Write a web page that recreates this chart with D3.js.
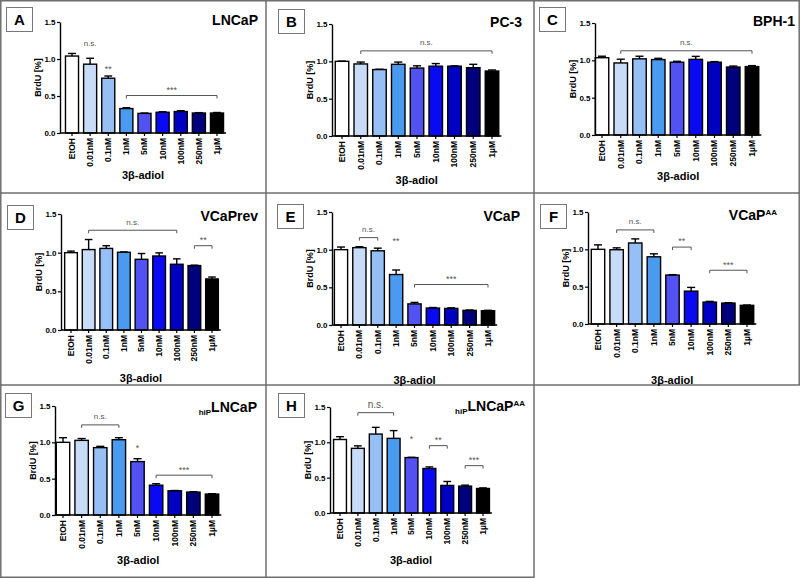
<!DOCTYPE html>
<html>
<head>
<meta charset="utf-8">
<script src="https://cdn.jsdelivr.net/npm/d3@7"></script>
<style>
  body { margin: 0; background: #fff; }
  text { font-family: Arial, "Liberation Sans", sans-serif; }
</style>
</head>
<body>
<div id="chart"></div>
<script>
// data
var categories = ["EtOH", "0.01nM", "0.1nM", "1nM", "5nM", "10nM", "100nM", "250nM", "1µM"];
var yTicks = [0.0, 0.5, 1.0, 1.5];
var panelLetters = ["A", "B", "C", "D", "E", "F", "G", "H"];

var meansA = [1.04, 0.93, 0.74, 0.33, 0.265, 0.28, 0.29, 0.27, 0.27];
var errA   = [0.035, 0.08, 0.03, 0.012, 0.005, 0.007, 0.012, 0.005, 0.007];
var meansB = [1.0, 0.965, 0.89, 0.96, 0.91, 0.935, 0.935, 0.915, 0.87];
var errB   = [0.003, 0.025, 0.004, 0.03, 0.03, 0.035, 0.004, 0.045, 0.014];
var meansC = [1.035, 0.965, 1.02, 1.01, 0.975, 1.013, 0.975, 0.91, 0.916];
var errC   = [0.02, 0.05, 0.035, 0.017, 0.012, 0.04, 0.008, 0.013, 0.013];
var meansD = [1.0, 1.04, 1.055, 1.005, 0.914, 0.957, 0.85, 0.833, 0.66];
var errD   = [0.02, 0.13, 0.035, 0.005, 0.075, 0.04, 0.07, 0.005, 0.025];
var meansE = [1.0, 1.027, 0.985, 0.67, 0.28, 0.225, 0.22, 0.194, 0.19];
var errE   = [0.035, 0.012, 0.035, 0.06, 0.02, 0.007, 0.008, 0.005, 0.005];
var meansF = [1.0, 0.995, 1.085, 0.9, 0.655, 0.44, 0.293, 0.28, 0.25];
var errF   = [0.06, 0.025, 0.055, 0.04, 0.006, 0.05, 0.01, 0.005, 0.004];
var meansG = [1.0, 1.027, 0.927, 1.036, 0.735, 0.41, 0.333, 0.315, 0.288];
var errG   = [0.064, 0.025, 0.018, 0.028, 0.04, 0.02, 0.004, 0.006, 0.005];
var meansH = [1.04, 0.915, 1.117, 1.056, 0.784, 0.63, 0.39, 0.38, 0.347];
var errH   = [0.04, 0.035, 0.095, 0.11, 0.004, 0.022, 0.056, 0.014, 0.008];

// significance marks: from / to category, level in BrdU units, label
var sigA = [["0.01nM", "0.01nM", 1.10, "n.s."], ["0.1nM", "0.1nM", 0.79, "**"], ["1nM", "1µM", 0.507, "***"]];
var sigB = [["0.01nM", "1µM", 1.14, "n.s."]];
var sigC = [["0.01nM", "1µM", 1.128, "n.s."]];
var sigD = [["0.01nM", "100nM", 1.29, "n.s."], ["250nM", "1µM", 1.09, "**"]];
var sigE = [["0.01nM", "0.1nM", 1.16, "n.s."], ["1nM", "1nM", 1.04, "**"], ["5nM", "1µM", 0.537, "***"]];
var sigF = [["0.01nM", "1nM", 1.26, "n.s."], ["5nM", "10nM", 1.03, "**"], ["100nM", "1µM", 0.72, "***"]];
var sigG = [["0.01nM", "1nM", 1.24, "n.s."], ["5nM", "5nM", 0.85, "*"], ["10nM", "1µM", 0.548, "***"]];
var sigH = [["0.01nM", "1nM", 1.42, "n.s."], ["5nM", "5nM", 0.967, "*"], ["10nM", "100nM", 0.953, "**"], ["250nM", "1µM", 0.67, "***"]];

var barColors = ["#ffffff", "#c8dcf8", "#96c0f5", "#4a9af0", "#5252f2", "#0a0af2", "#0000c2", "#00007c", "#000000"];

// titles: [main, subscript prefix, superscript suffix]
var titles = [["LNCaP", "", ""], ["PC-3", "", ""], ["BPH-1", "", ""], ["VCaPrev", "", ""],
              ["VCaP", "", ""], ["VCaP", "", "AA"], ["LNCaP", "hiP", ""], ["LNCaP", "hiP", "AA"]];

var means = [meansA, meansB, meansC, meansD, meansE, meansF, meansG, meansH];
var errs = [errA, errB, errC, errD, errE, errF, errG, errH];
var sigs = [sigA, sigB, sigC, sigD, sigE, sigF, sigG, sigH];

// layout of each panel (pixels)
var layout = [
  {ax: 60,  first: 72,  last: 217, y0: 133, y1: 22,  tx: 258, ty: 25,  bx: 6,   by: 7,   xt: 179},
  {ax: 332, first: 342, last: 492, y0: 136, y1: 24,  tx: 522, ty: 27,  bx: 278, by: 9,   xt: 184},
  {ax: 595, first: 602, last: 752, y0: 135, y1: 23,  tx: 795, ty: 26,  bx: 539, by: 7,   xt: 180},
  {ax: 61,  first: 71,  last: 212, y0: 330, y1: 214, tx: 258, ty: 221, bx: 7,   by: 205, xt: 382},
  {ax: 332, first: 341, last: 488, y0: 325, y1: 212, tx: 520, ty: 221, bx: 277, by: 204, xt: 384},
  {ax: 588, first: 598, last: 747, y0: 324, y1: 212, tx: 777, ty: 220, bx: 540, by: 204, xt: 384},
  {ax: 55,  first: 63,  last: 212, y0: 515, y1: 406, tx: 257, ty: 412, bx: 5,   by: 393, xt: 564},
  {ax: 330, first: 340, last: 483, y0: 513, y1: 407, tx: 525, ty: 411, bx: 278, by: 393, xt: 564}
];

var svg = d3.select("#chart")
  .append("svg")
  .attr("width", 800)
  .attr("height", 578);

// panel frame
var frame = svg.append("g")
  .attr("stroke", "#6e6e6e")
  .attr("stroke-width", 1.5);
[[0, 0.8, 800, 0.8], [0.8, 0, 0.8, 578], [799.2, 0, 799.2, 385], [266, 0, 266, 578],
 [534, 0, 534, 578], [0, 193, 800, 193], [0, 385, 800, 385], [0, 577.2, 534, 577.2]]
  .forEach(function(l) {
    frame.append("line").attr("x1", l[0]).attr("y1", l[1]).attr("x2", l[2]).attr("y2", l[3]);
  });

means.forEach(function(vals, i) {
  var L = layout[i];
  var step = (L.last - L.first) / (categories.length - 1);
  var g = svg.append("g");

  var x = d3.scaleBand()
    .domain(categories)
    .range([L.first - step / 2, L.last + step / 2])
    .paddingInner(0.28)
    .paddingOuter(0.14);

  var y = d3.scaleLinear()
    .domain([0, 1.5])
    .range([L.y0, L.y1]);

  var rows = categories.map(function(c, j) {
    return {cat: c, mean: vals[j], err: errs[i][j], color: barColors[j]};
  });

  // bars
  g.selectAll("rect.bar")
    .data(rows)
    .enter()
    .append("rect")
    .attr("class", "bar")
    .attr("x", d => x(d.cat))
    .attr("y", d => y(d.mean))
    .attr("width", x.bandwidth())
    .attr("height", d => y(0) - y(d.mean))
    .attr("fill", d => d.color)
    .attr("stroke", "#000")
    .attr("stroke-width", 1.4);

  // error bars (upper only)
  var eb = g.selectAll("g.err")
    .data(rows)
    .enter()
    .append("g")
    .attr("stroke", "#000")
    .attr("stroke-width", 1.4);
  eb.append("line")
    .attr("x1", d => x(d.cat) + x.bandwidth() / 2)
    .attr("x2", d => x(d.cat) + x.bandwidth() / 2)
    .attr("y1", d => y(d.mean))
    .attr("y2", d => y(d.mean + d.err));
  eb.append("line")
    .attr("x1", d => x(d.cat) + x.bandwidth() * 0.2)
    .attr("x2", d => x(d.cat) + x.bandwidth() * 0.8)
    .attr("y1", d => y(d.mean + d.err))
    .attr("y2", d => y(d.mean + d.err));

  // y axis
  var yAxis = g.append("g")
    .attr("transform", "translate(" + L.ax + ",0)")
    .call(d3.axisLeft(y).tickValues(yTicks).tickFormat(d3.format(".1f")).tickSize(3).tickSizeOuter(0));
  yAxis.selectAll("text")
    .style("font-size", "8px")
    .style("font-weight", "bold")
    .attr("x", -4.5);

  // x axis
  var xAxis = g.append("g")
    .attr("transform", "translate(0," + L.y0 + ")")
    .call(d3.axisBottom(x).tickSize(3).tickSizeOuter(0));
  xAxis.select(".domain")
    .attr("d", "M" + L.ax + ",0H" + (L.last + step / 2));
  xAxis.selectAll("text")
    .attr("transform", "rotate(-90)")
    .attr("text-anchor", "end")
    .attr("x", -5)
    .attr("y", 0)
    .attr("dy", "0.35em")
    .style("font-size", "8.5px")
    .style("font-weight", "bold");

  [yAxis, xAxis].forEach(function(a) {
    a.select(".domain").attr("stroke-width", 1.4);
    a.selectAll(".tick line").attr("stroke-width", 1.2);
  });

  // axis titles
  g.append("text")
    .attr("text-anchor", "middle")
    .attr("transform", "rotate(-90)")
    .attr("x", -(L.y0 + L.y1) / 2)
    .attr("y", L.ax - 19)
    .style("font-size", "9px")
    .style("font-weight", "bold")
    .text("BrdU [%]");

  g.append("text")
    .attr("text-anchor", "middle")
    .attr("x", (L.ax + L.last + step / 2) / 2)
    .attr("y", L.xt)
    .style("font-size", "11px")
    .style("font-weight", "bold")
    .text("3β-adiol");

  // significance marks
  sigs[i].forEach(function(s) {
    var x1 = x(s[0]) + x.bandwidth() / 2,
        x2 = x(s[1]) + x.bandwidth() / 2,
        yy = y(s[2]);
    if (s[0] !== s[1]) {
      g.append("path")
        .attr("d", "M" + x1 + "," + (yy + 3) + "V" + yy + "H" + x2 + "V" + (yy + 3))
        .attr("fill", "none")
        .attr("stroke", "#555")
        .attr("stroke-width", 1);
    }
    var ns = s[3] === "n.s.";
    g.append("text")
      .attr("text-anchor", "middle")
      .attr("x", (x1 + x2) / 2)
      .attr("y", yy - 8)
      .attr("dy", ns ? "0.3em" : "0.6em")
      .style("font-size", ns ? (i === 7 ? "10px" : "8px") : "9px")
      .style("fill", "#555")
      .text(s[3]);
  });

  // panel title
  var t = titles[i];
  var tt = g.append("text")
    .attr("text-anchor", "end")
    .attr("x", L.tx)
    .attr("y", L.ty)
    .style("font-size", "14px")
    .style("font-weight", "bold");
  if (t[1]) {
    tt.append("tspan").attr("dy", 3).style("font-size", "8px").text(t[1]);
    tt.append("tspan").attr("dy", -3).text(t[0]);
  } else {
    tt.append("tspan").text(t[0]);
  }
  if (t[2]) {
    tt.append("tspan").attr("dy", -5).style("font-size", "8px").text(t[2]);
  }

  // panel letter box
  g.append("rect")
    .attr("x", L.bx + 0.5)
    .attr("y", L.by + 0.5)
    .attr("width", 26)
    .attr("height", 24)
    .attr("fill", "#fff")
    .attr("stroke", "#777")
    .attr("stroke-width", 1);
  g.append("text")
    .attr("text-anchor", "middle")
    .attr("x", L.bx + 13.5)
    .attr("y", L.by + 18)
    .style("font-size", "15px")
    .style("font-weight", "bold")
    .text(panelLetters[i]);
});
</script>
</body>
</html>
